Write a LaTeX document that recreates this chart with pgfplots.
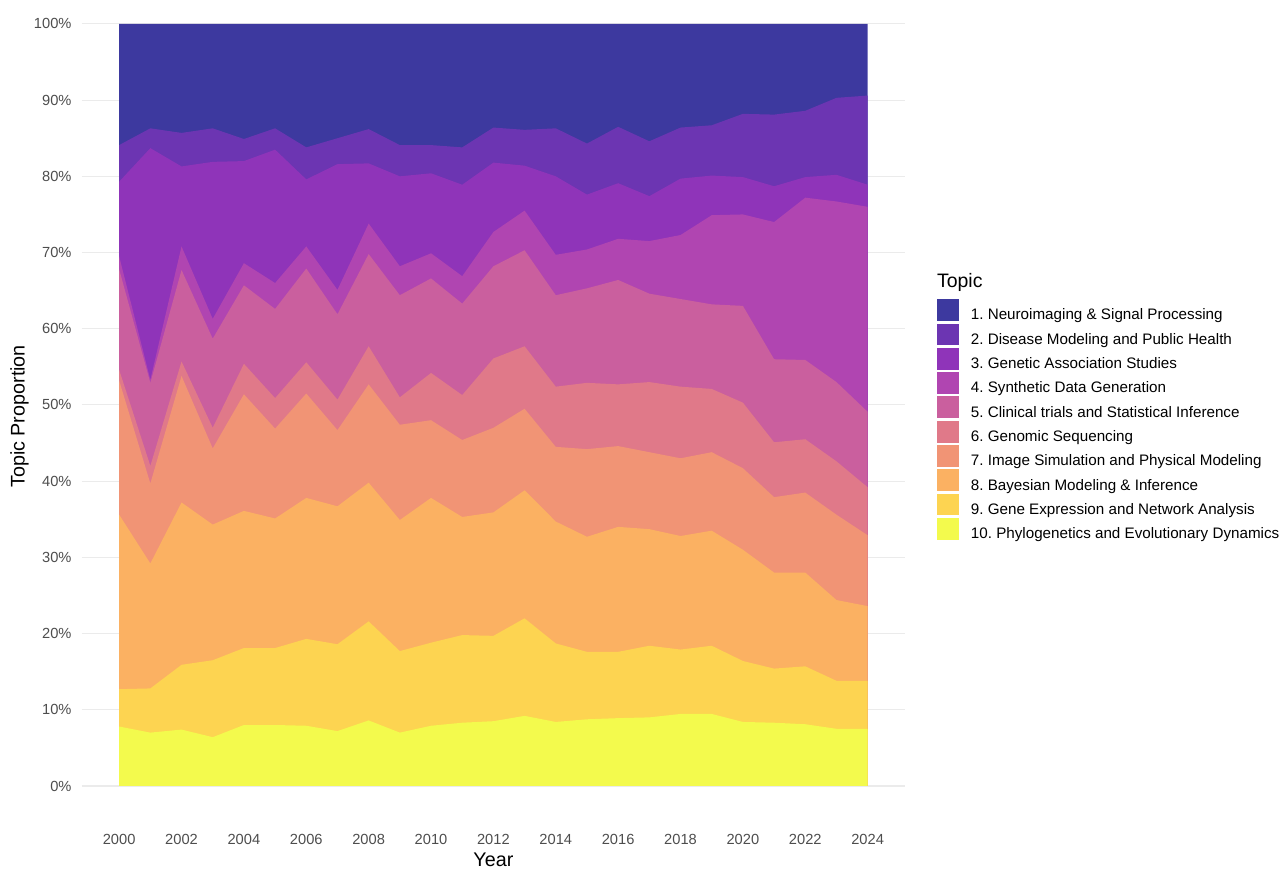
\documentclass[border=0pt]{standalone}
\usepackage{pgfplots}
\pgfplotsset{compat=1.18}
\usepackage{pgfplotstable}
\usepackage{fontspec}
\setmainfont{Liberation Sans}
\definecolor{c1}{HTML}{3D399F}
\definecolor{c2}{HTML}{6C35B2}
\definecolor{c3}{HTML}{8F34B9}
\definecolor{c4}{HTML}{B045B1}
\definecolor{c5}{HTML}{CA5F9E}
\definecolor{c6}{HTML}{E07989}
\definecolor{c7}{HTML}{F19475}
\definecolor{c8}{HTML}{FBB162}
\definecolor{c9}{HTML}{FDD451}
\definecolor{c10}{HTML}{F3FA4D}
\definecolor{gridgray}{HTML}{EBEBEB}
\definecolor{ticktext}{HTML}{4D4D4D}

% cumulative upper edge of each topic band (percent)
\pgfplotstableread{
year t10  t9   t8   t7   t6   t5   t4   t3   t2   t1
2000 7.8  12.7 35.6 53.2 54.6 67.8 69.5 79.3 84.1 100
2001 7.0  12.8 29.2 39.7 42.0 52.9 53.3 83.7 86.3 100
2002 7.4  15.9 37.2 53.8 55.7 67.7 70.8 81.3 85.7 100
2003 6.4  16.5 34.3 44.3 47.0 58.7 61.3 81.9 86.3 100
2004 8.0  18.1 36.1 51.4 55.4 65.7 68.6 82.0 84.9 100
2005 8.0  18.1 35.1 46.9 50.9 62.6 66.0 83.5 86.3 100
2006 7.9  19.3 37.8 51.5 55.6 67.9 70.8 79.6 83.8 100
2007 7.2  18.6 36.7 46.7 50.7 61.9 65.1 81.6 85.0 100
2008 8.6  21.6 39.8 52.7 57.7 69.8 73.8 81.7 86.2 100
2009 7.0  17.7 34.9 47.4 51.0 64.4 68.2 80.0 84.1 100
2010 7.9  18.8 37.8 48.0 54.2 66.6 69.9 80.4 84.1 100
2011 8.3  19.8 35.3 45.4 51.3 63.3 66.9 78.9 83.8 100
2012 8.5  19.7 35.9 47.0 56.1 68.2 72.7 81.8 86.4 100
2013 9.2  22.0 38.8 49.5 57.7 70.3 75.5 81.4 86.1 100
2014 8.4  18.7 34.7 44.5 52.4 64.4 69.7 80.0 86.3 100
2015 8.75 17.6 32.7 44.2 52.9 65.3 70.4 77.6 84.3 100
2016 8.9  17.6 34.0 44.6 52.7 66.4 71.8 79.1 86.5 100
2017 9.0  18.4 33.7 43.8 53.0 64.6 71.5 77.4 84.6 100
2018 9.45 17.9 32.8 43.0 52.4 63.9 72.3 79.7 86.4 100
2019 9.45 18.4 33.5 43.8 52.1 63.2 74.9 80.1 86.7 100
2020 8.4  16.4 31.0 41.7 50.3 63.0 75.0 79.9 88.2 100
2021 8.3  15.4 28.0 37.9 45.1 56.0 74.0 78.7 88.1 100
2022 8.1  15.7 28.0 38.5 45.5 55.9 77.2 79.9 88.6 100
2023 7.5  13.8 24.4 35.6 42.6 53.0 76.7 80.2 90.3 100
2024 7.5  13.8 23.6 32.9 39.2 49.1 76.0 78.9 90.6 100
}\data

\begin{document}
\frenchspacing
\begin{tikzpicture}
\begin{axis}[
  name=ax,
  scale only axis,
  width=617.5pt, height=618.1pt,
  xmin=1998.8, xmax=2025.2,
  ymin=-5, ymax=103.15,
  clip=false,
  axis line style={draw=none},
  major tick length=0pt,
  xtick={2000,2002,...,2024},
  ytick={0,10,...,100},
  ymajorgrids, xmajorgrids=false,
  major grid style={color=gridgray, line width=0.8pt},
  /pgf/number format/assume math mode=true,
  /pgf/number format/1000 sep={},
  yticklabel={\pgfmathprintnumber{\tick}\%},
  tick label style={font=\fontsize{11}{13}\selectfont, text=ticktext},
  xticklabel style={anchor=north, inner sep=0pt, yshift=-7.6pt},
  yticklabel style={anchor=east, inner sep=0pt, xshift=-7.5pt},
  legend cell align=left,
  legend image code/.code={\fill[#1] (0pt,-4.15pt) rectangle (16.3pt,12.15pt);},
  legend style={at={(rel axis cs:1.0385,0.6368)}, anchor=north west,
    draw=none, fill=none, inner sep=0pt, outer sep=0pt,
    row sep=1.2pt, column sep=9.3pt,
    nodes={inner sep=0pt},
    font=\fontsize{11.4}{13}\selectfont\frenchspacing},
]
\addplot[draw=none, fill=c1] table[x=year, y=t1] {\data} \closedcycle;
\addlegendentry{1. Neuroimaging \& Signal Processing}
\addplot[draw=none, fill=c2] table[x=year, y=t2] {\data} \closedcycle;
\addlegendentry{2. Disease Modeling and Public Health}
\addplot[draw=none, fill=c3] table[x=year, y=t3] {\data} \closedcycle;
\addlegendentry{3. Genetic Association Studies}
\addplot[draw=none, fill=c4] table[x=year, y=t4] {\data} \closedcycle;
\addlegendentry{4. Synthetic Data Generation}
\addplot[draw=none, fill=c5] table[x=year, y=t5] {\data} \closedcycle;
\addlegendentry{5. Clinical trials and Statistical Inference}
\addplot[draw=none, fill=c6] table[x=year, y=t6] {\data} \closedcycle;
\addlegendentry{6. Genomic Sequencing}
\addplot[draw=none, fill=c7] table[x=year, y=t7] {\data} \closedcycle;
\addlegendentry{7. Image Simulation and Physical Modeling}
\addplot[draw=none, fill=c8] table[x=year, y=t8] {\data} \closedcycle;
\addlegendentry{8. Bayesian Modeling \& Inference}
\addplot[draw=none, fill=c9] table[x=year, y=t9] {\data} \closedcycle;
\addlegendentry{9. Gene Expression and Network Analysis}
\addplot[draw=none, fill=c10] table[x=year, y=t10] {\data} \closedcycle;
\addlegendentry{10. Phylogenetics and Evolutionary Dynamics}
\node[anchor=base west, inner sep=0pt, font=\fontsize{14.6}{16}\selectfont] at (rel axis cs:1.0385,0.6513) {Topic};
\end{axis}
\node[rotate=90, inner sep=0pt, font=\fontsize{14.8}{16}\selectfont] at ([xshift=-46.6pt, yshift=-3.3pt]ax.west) {Topic Proportion};
\node[inner sep=0pt, font=\fontsize{14.8}{16}\selectfont] at ([yshift=-26.9pt]ax.south) {Year};
\pgfresetboundingbox
\path ([shift={(-61.3pt,-45.7pt)}]ax.south west) rectangle ++(960pt,663.75pt);
\end{tikzpicture}
\end{document}
